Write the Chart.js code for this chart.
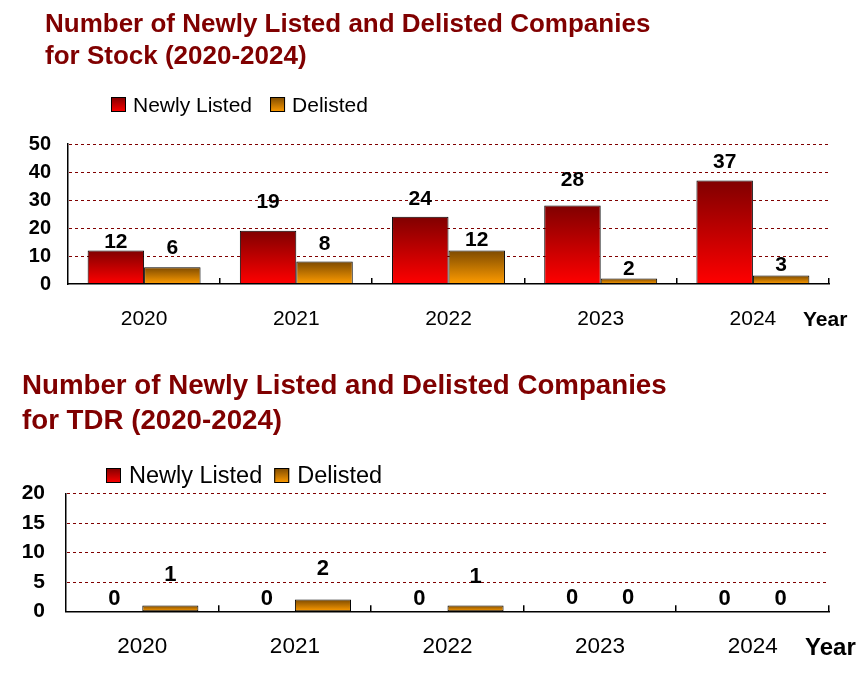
<!DOCTYPE html>
<html><head><meta charset="utf-8">
<script src="https://cdn.jsdelivr.net/npm/chart.js@4.4.1/dist/chart.umd.min.js"></script>
<style>
html,body{margin:0;padding:0;background:#fff;}
#wrap{position:relative;width:865px;height:682px;overflow:hidden;}
canvas{position:absolute;left:0;}
</style></head><body>
<div id="wrap">
<canvas id="stock" width="865" height="340" style="top:0px"></canvas>
<canvas id="tdr" width="865" height="342" style="top:340px"></canvas>
</div>
<script>
// ---------- data ----------
const years = ['2020', '2021', '2022', '2023', '2024'];
const seriesNames = ['Newly Listed', 'Delisted'];
const stockNewlyListed = [12, 19, 24, 28, 37];
const stockDelisted = [6, 8, 12, 2, 3];
const tdrNewlyListed = [0, 0, 0, 0, 0];
const tdrDelisted = [1, 2, 1, 0, 0];
const stockTicks = [0, 10, 20, 30, 40, 50];
const tdrTicks = [0, 5, 10, 15, 20];
const stockTitle = ['Number of Newly Listed and Delisted Companies', 'for Stock (2020-2024)'];
const tdrTitle = ['Number of Newly Listed and Delisted Companies', 'for TDR (2020-2024)'];
const axisName = 'Year';

// ---------- style ----------
const FONT = '"Liberation Sans", Arial, Helvetica, sans-serif';
const MAROON = '#800000';
const newlyTop = '#800000', newlyBottom = '#ff0000';
const delTop = '#7d4a00', delBottom = '#ff9c00';
// value label lift above the bar top (px), per series
const stockLift = [[10, 30, 19, 27, 20], [21, 19, 12, 11, 12]];
const tdrLift = [[14, 14, 14, 15, 14], [32, 32, 30, 15, 14]];

Chart.defaults.font.family = FONT;
Chart.defaults.color = '#000';

function grad(top, bottom) {
  return (c) => {
    const chart = c.chart;
    if (c.type !== 'data' || !chart.chartArea || !chart.scales.y) return bottom;
    const ys = chart.scales.y;
    const y0 = ys.getPixelForValue(0);
    const y1 = ys.getPixelForValue(c.raw);
    if (Math.abs(y0 - y1) < 1) return bottom;
    const g = chart.ctx.createLinearGradient(0, y1, 0, y0);
    g.addColorStop(0, top);
    g.addColorStop(1, bottom);
    return g;
  };
}

const deco = {
  id: 'deco',
  beforeDatasetsDraw(chart, args, o) {
    const {ctx, chartArea: a, scales: {y}} = chart;
    ctx.save();
    ctx.strokeStyle = MAROON;
    ctx.lineWidth = 1;
    ctx.setLineDash([3, 3]);
    y.ticks.forEach(t => {
      if (t.value === 0) return;
      const py = Math.round(y.getPixelForValue(t.value)) + 0.5;
      ctx.beginPath();
      ctx.moveTo(a.left + 1, py);
      ctx.lineTo(a.right, py);
      ctx.stroke();
    });
    ctx.restore();
  },
  afterDatasetsDraw(chart, args, o) {
    const {ctx, chartArea: a, scales: {x, y}} = chart;
    ctx.save();
    // inward category ticks on the x axis
    const n = chart.data.labels.length;
    const w = (x.right - x.left) / n;
    ctx.strokeStyle = '#000';
    ctx.lineWidth = 1.5;
    for (let i = 1; i <= n; i++) {
      const px = Math.round(x.left + i * w) - 0.25;
      ctx.beginPath();
      ctx.moveTo(px, a.bottom);
      ctx.lineTo(px, a.bottom - 6);
      ctx.stroke();
    }
    // value labels
    ctx.fillStyle = '#000';
    ctx.textAlign = 'center';
    ctx.textBaseline = 'alphabetic';
    ctx.font = 'bold ' + o.valueSize + 'px ' + FONT;
    chart.data.datasets.forEach((ds, di) => {
      const meta = chart.getDatasetMeta(di);
      meta.data.forEach((bar, i) => {
        const cy = bar.y - o.lift[di][i];
        ctx.fillText(String(ds.data[i]), bar.x, cy + o.valueSize * 0.358);
      });
    });
    ctx.restore();
  },
  afterDraw(chart, args, o) {
    const ctx = chart.ctx;
    ctx.save();
    // title
    ctx.fillStyle = MAROON;
    ctx.textAlign = 'left';
    ctx.textBaseline = 'alphabetic';
    ctx.font = 'bold ' + o.titleSize + 'px ' + FONT;
    o.title.forEach((line, i) => ctx.fillText(line, o.titleX, o.titleBase[i]));
    // legend
    const L = o.legend;
    let lx = L.x;
    ctx.font = L.size + 'px ' + FONT;
    chart.data.datasets.forEach((ds, di) => {
      const g = ctx.createLinearGradient(0, L.boxTop, 0, L.boxTop + 15);
      g.addColorStop(0, ds.gradTop);
      g.addColorStop(1, ds.gradBottom);
      ctx.fillStyle = g;
      ctx.fillRect(lx, L.boxTop, 15, 15);
      ctx.strokeStyle = '#000';
      ctx.lineWidth = 1;
      ctx.strokeRect(lx + 0.5, L.boxTop + 0.5, 14, 14);
      lx += 15 + L.gap1;
      ctx.fillStyle = '#000';
      ctx.fillText(ds.label, lx, L.boxTop + 15);
      lx += ctx.measureText(ds.label).width + L.gap2;
    });
    // axis name
    ctx.font = 'bold ' + o.yearSize + 'px ' + FONT;
    ctx.fillStyle = '#000';
    ctx.fillText(axisName, o.yearX, o.yearBase);
    ctx.restore();
  }
};

function makeChart(id, newly, del, ticks, cfg) {
  return new Chart(document.getElementById(id), {
    type: 'bar',
    data: {
      labels: years,
      datasets: [
        {label: seriesNames[0], data: newly, backgroundColor: grad(newlyTop, newlyBottom),
         gradTop: newlyTop, gradBottom: newlyBottom, borderColor: '#000', borderWidth: 1, borderSkipped: false},
        {label: seriesNames[1], data: del, backgroundColor: grad(delTop, delBottom),
         gradTop: delTop, gradBottom: delBottom, borderColor: '#000', borderWidth: 1, borderSkipped: false}
      ]
    },
    options: {
      responsive: false,
      animation: false,
      devicePixelRatio: 1,
      layout: {padding: {top: cfg.padTop, right: 36, bottom: 0, left: 0}},
      datasets: {bar: {categoryPercentage: cfg.catPct, barPercentage: 1}},
      scales: {
        x: {
          grid: {display: false, drawTicks: false},
          border: {display: true, color: '#000', width: 1.5},
          ticks: {font: {size: cfg.xSize}, color: '#000', padding: cfg.xPad, maxRotation: 0},
          afterFit: s => { s.height = cfg.xHeight; }
        },
        y: {
          min: ticks[0], max: ticks[ticks.length - 1],
          grid: {display: false, drawTicks: false},
          border: {display: true, color: '#000', width: 1.5},
          ticks: {font: {size: cfg.ySize, weight: 'bold'}, color: '#000', padding: cfg.yPad},
          afterBuildTicks: s => { s.ticks = ticks.map(v => ({value: v})); },
          afterFit: s => { s.width = cfg.yWidth; }
        }
      },
      plugins: {
        legend: {display: false},
        title: {display: false},
        tooltip: {enabled: false},
        deco: cfg.deco
      }
    },
    plugins: [deco]
  });
}

makeChart('stock', stockNewlyListed, stockDelisted, stockTicks, {
  padTop: 144, catPct: 0.742, xSize: 21, xPad: 23, xHeight: 56, ySize: 20, yPad: 17, yWidth: 68,
  deco: {
    title: stockTitle, titleX: 45, titleBase: [32, 63.5], titleSize: 26,
    legend: {x: 111, boxTop: 97, size: 21, gap1: 7, gap2: 18},
    valueSize: 21, lift: stockLift,
    yearSize: 21, yearX: 803, yearBase: 326
  }
});

makeChart('tdr', tdrNewlyListed, tdrDelisted, tdrTicks, {
  padTop: 153.3, catPct: 0.735, xSize: 22.5, xPad: 22, xHeight: 70.7, ySize: 21, yPad: 21, yWidth: 66,
  deco: {
    title: tdrTitle, titleX: 22, titleBase: [54, 89], titleSize: 27.7,
    legend: {x: 106, boxTop: 128, size: 23.5, gap1: 8, gap2: 12},
    valueSize: 22, lift: tdrLift,
    yearSize: 24, yearX: 805, yearBase: 315
  }
});
</script>
</body></html>
